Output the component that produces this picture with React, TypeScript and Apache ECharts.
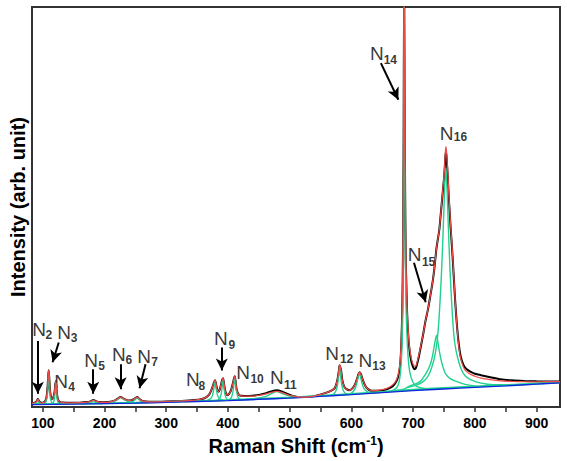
import React, { useEffect, useRef } from "react";
import * as echarts from "echarts";

const FONT = "'Liberation Sans', Arial, sans-serif";

// Axis ranges and tick values (Raman shift, cm-1)
const xRange = [82.5, 938];
const yRange = [0, 401];
const xTickValues = [100, 150, 200, 250, 300, 350, 400, 450, 500, 550, 600, 650, 700, 750, 800, 850, 900];
const xLabelValues = [100, 200, 300, 400, 500, 600, 700, 800, 900];

// Measured spectrum (black)
const spectrum: [number, number][] = [
  [82.5, 4], [86, 4.2], [89, 5], [91, 7], [92, 8], [93, 7], [95, 5], [98, 4.3], [101, 4.5], [104, 6], [106, 10],
  [107.5, 18], [108.5, 28], [109.5, 37], [110.5, 29], [111.5, 18], [113, 11], [115, 8], [117, 9.5], [119, 15],
  [120, 21], [121, 26], [122, 20], [123, 13], [125, 7], [128, 5], [133, 4.5], [145, 4.3], [160, 4.4], [172, 5],
  [178, 6], [182, 7], [186, 6], [192, 5], [200, 4.8], [210, 5.3], [218, 7], [222, 8.7], [226, 10], [230, 8.8],
  [236, 7], [242, 6.6], [247, 7.8], [250, 9], [253, 10], [256, 8.5], [260, 6.5], [267, 5.5], [280, 5.3], [300, 5.6],
  [325, 6.2], [345, 7], [358, 8.2], [365, 10], [370, 13], [374, 18.5], [377, 24], [379, 27], [381, 22], [383, 17],
  [385, 15.5], [387, 18], [389, 23], [390.5, 27], [392, 29], [393.5, 24], [395, 18], [397, 13.5], [399, 12],
  [402, 13.5], [405, 17], [408, 24], [409.5, 28], [411, 31], [412.5, 25], [414, 18], [417, 13], [421, 11.3],
  [428, 11.2], [440, 11.5], [452, 12.5], [462, 14], [470, 15.7], [479, 17], [487, 15.8], [495, 13.5], [505, 11.2],
  [519, 10], [535, 10.5], [552, 13], [562, 15], [569, 17], [573, 19], [576, 24], [578.5, 31], [580, 38], [581, 42],
  [582, 42], [583.5, 36], [585, 28], [588, 21], [592, 18], [597, 17], [602, 19], [606, 23], [609, 28], [611.5, 33],
  [613.5, 35], [615.5, 33], [618, 28], [622, 22], [627, 18], [633, 16.3], [642, 16.3], [652, 17], [660, 18.5],
  [667, 21], [672, 25], [676, 31], [679, 42], [681, 65], [682.5, 100], [683.5, 150], [684.5, 250], [685.5, 430],
  [686.5, 270], [688, 150], [689, 125], [690, 100], [691.5, 78], [694, 58], [697, 46], [700, 40], [702, 38],
  [704, 38.5], [708, 47], [712, 59], [716, 72], [720, 86], [724.7, 100], [728, 112], [732, 127], [735, 142],
  [737.6, 158], [740, 168], [742.5, 178], [745, 195], [748, 215], [750.5, 232], [752, 248], [753, 256], [754, 252],
  [756, 232], [758, 208], [761, 178], [763, 160], [765, 140], [768, 108], [771, 82], [774, 63], [777, 51], [781, 43],
  [785, 39], [790, 36.5], [795, 34.8], [800, 33.5], [810, 32], [825, 30], [842, 27.8], [860, 26.8], [880, 26.2],
  [900, 25.8], [920, 25.6], [938, 25.6],
];

// Cumulative fit (red)
const fitCurve: [number, number][] = [
  [82.5, 4], [86, 4.2], [89, 5], [91, 7], [92, 8], [93, 7], [95, 5], [98, 4.3], [101, 4.5], [104, 6], [106, 10],
  [107.5, 18], [108.5, 28], [109.5, 37], [110.5, 29], [111.5, 18], [113, 11], [115, 8], [117, 9.5], [119, 15],
  [120, 21], [121, 26], [122, 20], [123, 13], [125, 7], [128, 5], [133, 4.5], [145, 4.3], [160, 4.4], [172, 5],
  [178, 6], [182, 7], [186, 6], [192, 5], [200, 4.8], [210, 5.3], [218, 7], [222, 8.7], [226, 10], [230, 8.8],
  [236, 7], [242, 6.6], [247, 7.8], [250, 9], [253, 10], [256, 8.5], [260, 6.5], [267, 5.5], [280, 5.3], [300, 5.6],
  [325, 6.2], [345, 7], [358, 8.2], [365, 10], [370, 13], [374, 18.5], [377, 24], [379, 27], [381, 22], [383, 17],
  [385, 15.5], [387, 18], [389, 23], [390.5, 27], [392, 29], [393.5, 24], [395, 18], [397, 13.5], [399, 12],
  [402, 13.5], [405, 17], [408, 24], [409.5, 28], [411, 31], [412.5, 25], [414, 18], [417, 13], [421, 11.3],
  [428, 11], [440, 11], [452, 12], [462, 13.3], [470, 14.8], [479, 15.8], [487, 14.8], [495, 12.8], [505, 11],
  [519, 10], [535, 10.5], [552, 13], [562, 15], [569, 17], [573, 19], [576, 24], [578.5, 31], [580, 38], [581, 42.5],
  [582, 42.5], [583.5, 36], [585, 28], [588, 21], [592, 18], [597, 17], [602, 19], [606, 23], [609, 28], [611.5, 33],
  [613.5, 35], [615.5, 33], [618, 28], [622, 22], [627, 18], [633, 16.5], [642, 16.8], [652, 17.8], [660, 19.5],
  [667, 22.5], [672, 26], [676, 33], [679, 46], [681, 70], [682.5, 108], [683.5, 155], [684.5, 255], [685.5, 430],
  [686.5, 275], [688, 155], [689, 128], [690, 104], [691.5, 82], [694, 61], [697, 49], [700, 43], [702, 41],
  [704, 41], [708, 49], [712, 60], [716, 72], [720, 86], [724.7, 100], [728, 112], [732, 127], [735, 142],
  [737.6, 158], [740, 168], [742.5, 178], [745, 195], [748, 217], [750.5, 236], [752, 253], [753, 261], [754, 257],
  [756, 238], [758, 212], [761, 180], [763, 162], [765, 142], [768, 108], [771, 81], [774, 61], [777, 49], [781, 41],
  [785, 36.5], [790, 34], [795, 32.3], [800, 31], [810, 29], [825, 27.5], [842, 26.3], [860, 25.8], [880, 25.5],
  [900, 25.4], [938, 25.5],
];

// Baseline (blue)
const baseline: [number, number][] = [
  [82.5, 2.5], [150, 3], [200, 3.5], [250, 4], [300, 4.8], [350, 5.6], [400, 6.5], [450, 7.8], [500, 9],
  [550, 10.8], [600, 12.5], [650, 14.5], [700, 16.5], [750, 18.2], [800, 19.8], [850, 21.3], [900, 23], [938, 24.3],
];

// Tails of the fitted components along the baseline (green)
const componentTails: [number, number][] = [
  [82.5, 3], [150, 3.4], [200, 3.9], [250, 4.4], [300, 5.2], [350, 6], [400, 7], [450, 8.3], [500, 9.6],
  [550, 11.4], [600, 13.1], [650, 15.2], [700, 17.4], [750, 19.2], [800, 20.6], [850, 22], [900, 23.5], [938, 24.7],
];

// Fitted Lorentzian components (green), read around each peak
const compN2: [number, number][] = [[84, 2.6], [88, 3.2], [90, 4.5], [91, 6], [92, 7.5], [93, 6], [94, 4.5], [96, 3.2], [100, 2.7]];
const compN3: [number, number][] = [[101, 2.9], [104, 4], [106, 7], [107.5, 13], [108.5, 24], [109.5, 36], [110.5, 24], [111.5, 13], [113, 7], [115, 4], [119, 3]];
const compN4: [number, number][] = [[114, 3], [117, 4.5], [119, 9], [120, 17], [121, 25], [122, 17], [123, 9], [125, 4.5], [129, 3]];
const compN5: [number, number][] = [[168, 3.4], [175, 4], [179, 5.3], [182, 6.5], [185, 5.3], [189, 4], [196, 3.4]];
const compN6: [number, number][] = [[205, 4.3], [214, 5.5], [220, 7.5], [226, 9.5], [232, 7.5], [238, 5.5], [247, 4.3]];
const compN7: [number, number][] = [[240, 4.3], [246, 5.5], [250, 7.8], [253, 9.5], [256, 7.8], [260, 5.5], [266, 4.4]];
const compN8: [number, number][] = [[366, 6.5], [372, 8.5], [375, 12], [377, 18], [379, 26], [381, 18], [383, 12], [386, 8.5], [392, 6.8]];
const compN9: [number, number][] = [[382, 6.6], [386, 8], [389, 13], [390.5, 20], [392, 28], [393.5, 20], [395, 13], [398, 8], [402, 6.8]];
const compN10: [number, number][] = [[401, 7], [405, 9], [408, 15], [409.5, 22], [411, 30], [412.5, 22], [414, 15], [417, 9], [421, 7.2]];
const compN11: [number, number][] = [[430, 7.8], [445, 8.6], [460, 10.5], [470, 13.2], [479, 15.5], [488, 13.5], [498, 11.4], [513, 10.3], [530, 10.1]];
const compN12: [number, number][] = [[566, 11.6], [572, 13.5], [576, 18], [578.5, 26], [581, 41], [583.5, 26], [586, 18], [590, 13.8], [597, 12.4]];
const compN13: [number, number][] = [[593, 12.5], [600, 14], [606, 18.5], [610, 27], [613, 34], [616, 27], [620, 19], [627, 15], [638, 13.8]];
const compN14: [number, number][] = [[655, 15], [668, 17], [675, 21], [679, 32], [682, 60], [683.5, 110], [684.5, 220], [685.5, 430], [686.5, 240], [688, 120], [690, 72], [693, 42], [697, 29], [703, 22], [712, 19.5], [725, 18.5], [745, 18.5]];
const compN15: [number, number][] = [[670, 16.5], [685, 18], [694, 21], [705, 23.5], [712, 26], [716, 29], [722, 35], [726, 40], [729, 45], [732, 53], [735, 64], [737, 70], [738, 72], [739.5, 68], [742, 58], [745, 48], [749, 39], [753, 33], [760, 28.5], [769, 26], [780, 23.5], [791, 22], [805, 20.5]];
const compN16: [number, number][] = [[690, 19.5], [705, 22], [715, 25], [722, 29], [728, 36], [734, 48], [738, 62], [741, 80], [744, 110], [746, 135], [748, 165], [750, 200], [751.5, 225], [753, 240], [754.5, 225], [756, 200], [758, 165], [760, 135], [762, 110], [765, 80], [768, 62], [772, 50], [778, 38], [785, 31], [795, 27], [810, 24], [830, 22.5], [860, 22.5], [900, 23.6], [938, 24.8]];
const components = [compN2, compN3, compN4, compN5, compN6, compN7, compN8, compN9, compN10, compN11, compN12, compN13, compN14, compN15, compN16];

// Peak annotations: letter "N" centre and subscript centre (data coordinates)
const peakNames = ["2", "3", "4", "5", "6", "7", "8", "9", "10", "11", "12", "13", "14", "15", "16"];
const letterPos: [number, number][] = [
  [93.9, 78], [134.6, 75], [129.8, 26], [178.1, 47], [223.2, 52.5], [264.3, 51], [343.3, 27.5], [388.4, 68.5],
  [424.6, 34.5], [479.4, 29.5], [568.8, 54], [622.8, 46.5], [641.3, 354], [702.5, 152.5], [754.1, 274.5],
];
const subPos: [number, number][] = [
  [109.7, 72], [150.7, 69], [146.7, 20], [195.1, 41], [239.4, 47], [281.2, 45], [357.8, 21], [406.1, 62],
  [447.2, 28], [501.2, 22], [592.2, 48], [644.6, 41.5], [663.1, 347.5], [725.1, 145], [776.7, 270.5],
];

// Arrows: [start, head] in data coordinates
const arrows: [[number, number], [number, number]][] = [
  [[91.9, 66.3], [91.9, 13.5]],
  [[125.8, 64.7], [115.9, 44.9]],
  [[181.7, 38], [181.7, 13.5]],
  [[226.1, 43], [226.1, 17.8]],
  [[266.4, 43], [256.8, 19]],
  [[390, 59.7], [390, 36.8]],
  [[647.8, 344.7], [676.1, 308]],
  [[701.4, 144.7], [720.4, 105]],
];

const BLACK = "#000000";
const RED = "#ee4a46";
const GREEN = "#1fd08e";
const BLUE = "#1226e0";

function lineSeries(name: string, data: [number, number][], color: string, width: number) {
  return {
    name,
    type: "line",
    data,
    showSymbol: false,
    symbol: "none",
    smooth: 0.25,
    clip: true,
    silent: true,
    lineStyle: { color, width },
    emphasis: { disabled: true },
  };
}

export default function App() {
  const ref = useRef<HTMLDivElement>(null);
  useEffect(() => {
    if (!ref.current) return;
    const chart = echarts.init(ref.current, undefined, { renderer: "svg" });
    const series: any[] = [];
    series.push(lineSeries("Spectrum", spectrum, BLACK, 2));
    components.forEach((c, i) => series.push(lineSeries("N" + peakNames[i], c, GREEN, 1.4)));
    series.push(lineSeries("Tails", componentTails, GREEN, 2));
    series.push(lineSeries("Baseline", baseline, BLUE, 1.4));
    series.push(lineSeries("Fit", fitCurve, RED, 1.2));
    series.push({
      name: "letters",
      type: "scatter",
      silent: true,
      symbolSize: 1,
      itemStyle: { color: "rgba(0,0,0,0)" },
      data: letterPos.map((p) => ({ value: p, name: "N" })),
      label: {
        show: true,
        position: "inside",
        formatter: "{b}",
        fontFamily: FONT,
        fontSize: 19,
        color: "#000",
      },
      markLine: {
        silent: true,
        symbol: ["none", "arrow"],
        symbolSize: [9, 12],
        label: { show: false },
        lineStyle: { color: "#000", width: 2, type: "solid" },
        emphasis: { disabled: true },
        data: arrows.map(([a, b]) => [{ coord: a }, { coord: b }]),
      },
    });
    series.push({
      name: "subs",
      type: "scatter",
      silent: true,
      symbolSize: 1,
      itemStyle: { color: "rgba(0,0,0,0)" },
      data: subPos.map((p, i) => ({ value: p, name: peakNames[i] })),
      label: {
        show: true,
        position: "inside",
        formatter: "{b}",
        fontFamily: FONT,
        fontSize: 12,
        fontWeight: "bold",
        color: "#000",
      },
    });

    chart.setOption({
      animation: false,
      grid: { left: 29, right: 7, top: 7, bottom: 53, show: true, borderColor: "#333", borderWidth: 2 },
      xAxis: {
        type: "value",
        min: xRange[0],
        max: xRange[1],
        name: "Raman Shift (cm{sup|-1})",
        nameLocation: "middle",
        nameGap: 14,
        nameTextStyle: {
          fontFamily: FONT,
          fontWeight: "bold",
          fontSize: 20,
          color: "#000",
          rich: { sup: { fontFamily: FONT, fontWeight: "bold", fontSize: 12, color: "#000", padding: [0, 0, 10, 0] } },
        },
        axisLine: { show: false },
        splitLine: { show: false },
        axisTick: { show: true, inside: false, length: 5, lineStyle: { color: "#333", width: 1.5 }, customValues: xTickValues },
        axisLabel: { customValues: xLabelValues, fontFamily: FONT, fontWeight: "bold", fontSize: 14, color: "#000", margin: 9 },
      },
      yAxis: {
        type: "value",
        min: yRange[0],
        max: yRange[1],
        name: "Intensity (arb. unit)",
        nameLocation: "middle",
        nameGap: 4,
        nameTextStyle: { fontFamily: FONT, fontWeight: "bold", fontSize: 20, color: "#000" },
        axisLine: { show: false },
        axisTick: { show: false },
        axisLabel: { show: false },
        splitLine: { show: false },
      },
      series,
    });
    return () => chart.dispose();
  }, []);
  return <div ref={ref} style={{ position: "absolute", left: 0, top: 0, width: 567, height: 461 }} />;
}
